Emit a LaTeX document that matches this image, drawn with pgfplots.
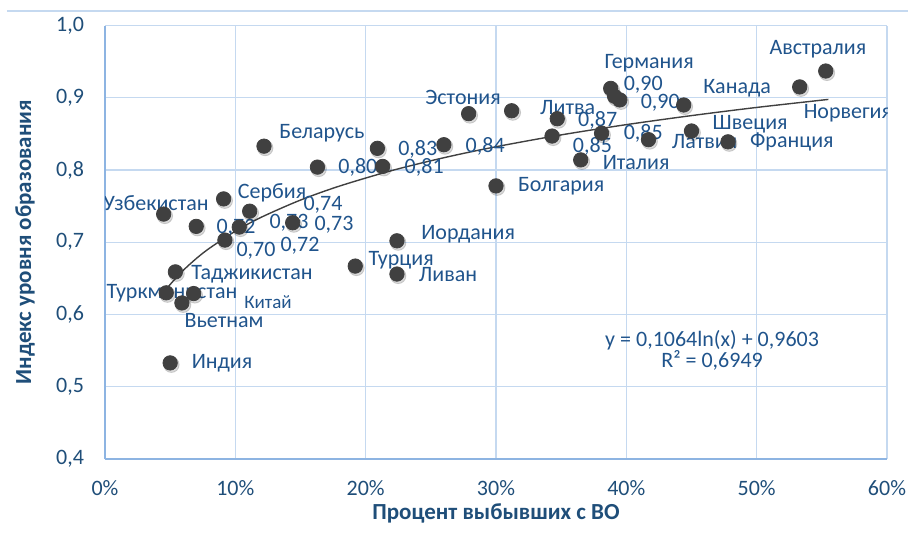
\documentclass[border=0pt]{standalone}
\usepackage{fontspec}
\setmainfont{Carlito}
\usepackage{pgfplots}
\pgfplotsset{compat=1.18}

\definecolor{txtc}{RGB}{31,78,121}
\definecolor{lblc}{RGB}{32,84,140}
\definecolor{gridc}{RGB}{197,217,240}
\definecolor{axisc}{RGB}{141,180,226}
\definecolor{markc}{RGB}{64,64,64}
\tikzset{lbl/.style={font=\fontsize{11}{13}\selectfont, text=lblc, inner sep=0pt, anchor=center}}

\begin{document}
\begin{tikzpicture}
\path[use as bounding box] (-52.5pt,-37.5pt) rectangle (401.5pt,229.5pt);
\draw[gridc, line width=0.6pt] (-49pt,224pt) -- (401.5pt,224pt);
\begin{axis}[
  scale only axis,
  width=391pt, height=216.75pt,
  xmin=0, xmax=0.6, ymin=0.4, ymax=1.0,
  xtick={0,0.1,0.2,0.3,0.4,0.5,0.6},
  xticklabels={0\%,10\%,20\%,30\%,40\%,50\%,60\%},
  ytick={0.4,0.5,0.6,0.7,0.8,0.9,1.0},
  yticklabel style={/pgf/number format/fixed, /pgf/number format/fixed zerofill,
    /pgf/number format/precision=1, /pgf/number format/use comma, xshift=-7pt},
  /pgf/number format/assume math mode=true,
  grid=major,
  grid style={gridc, line width=0.6pt},
  axis x line*=bottom, axis y line*=left,
  axis line style={axisc, line width=1.2pt, -},
  major tick length=0pt,
  tick label style={font=\fontsize{11}{13}\selectfont, text=txtc},
  xticklabel style={yshift=-7pt},
  xlabel={Процент выбывших с ВО},
  ylabel={Индекс уровня образования},
  every axis x label/.style={at={([yshift=-27pt]axis description cs:0.5,0)}, anchor=center,
    font=\fontsize{11.5}{13}\selectfont\bfseries, text=txtc},
  every axis y label/.style={at={([xshift=-40pt]axis description cs:0,0.5)}, anchor=center, rotate=90,
    font=\fontsize{11.5}{13}\selectfont\bfseries, text=txtc},
]
% trend line
\addplot[markc, line width=0.7pt, smooth, no marks] coordinates {
(0.043,0.6255) (0.05,0.6416) (0.06,0.6610) (0.07,0.6774) (0.08,0.6915)
(0.10,0.7153) (0.12,0.7347) (0.15,0.7584) (0.18,0.7778) (0.22,0.7992)
(0.26,0.8170) (0.30,0.8322) (0.35,0.8486) (0.40,0.8628) (0.45,0.8753)
(0.50,0.8866) (0.555,0.8977)
};
% shadow of the points
\addplot[only marks, mark=*, mark size=3.9pt,
  mark options={fill=black, draw=none, opacity=0.15, xshift=0.6pt, yshift=-0.9pt}]
  table {
x y
0.553 0.937
0.533 0.915
0.388 0.913
0.391 0.902
0.395 0.897
0.444 0.890
0.450 0.854
0.478 0.839
0.417 0.842
0.381 0.851
0.347 0.871
0.343 0.847
0.365 0.814
0.312 0.882
0.300 0.778
0.279 0.878
0.260 0.835
0.209 0.830
0.213 0.805
0.163 0.804
0.122 0.833
0.224 0.702
0.192 0.667
0.224 0.656
0.144 0.727
0.045 0.739
0.091 0.760
0.111 0.743
0.070 0.722
0.103 0.721
0.092 0.703
0.054 0.659
0.047 0.630
0.068 0.629
0.059 0.616
0.050 0.533
};
% points
\addplot[only marks, mark=*, mark size=3.6pt,
  mark options={fill=markc, draw=markc}]
  table {
x y
0.553 0.937
0.533 0.915
0.388 0.913
0.391 0.902
0.395 0.897
0.444 0.890
0.450 0.854
0.478 0.839
0.417 0.842
0.381 0.851
0.347 0.871
0.343 0.847
0.365 0.814
0.312 0.882
0.300 0.778
0.279 0.878
0.260 0.835
0.209 0.830
0.213 0.805
0.163 0.804
0.122 0.833
0.224 0.702
0.192 0.667
0.224 0.656
0.144 0.727
0.045 0.739
0.091 0.760
0.111 0.743
0.070 0.722
0.103 0.721
0.092 0.703
0.054 0.659
0.047 0.630
0.068 0.629
0.059 0.616
0.050 0.533
};
% data labels
\node[lbl] at (axis cs:0.547,0.967) {Австралия};
\node[lbl] at (axis cs:0.4175,0.948) {Германия};
\node[lbl] at (axis cs:0.413,0.918) {0,90};
\node[lbl] at (axis cs:0.426,0.893) {0,90};
\node[lbl] at (axis cs:0.485,0.913) {Канада};
\node[lbl] at (axis cs:0.570,0.879) {Норвегия};
\node[lbl] at (axis cs:0.495,0.864) {Швеция};
\node[lbl] at (axis cs:0.460,0.839) {Латвия};
\node[lbl] at (axis cs:0.527,0.839) {Франция};
\node[lbl] at (axis cs:0.413,0.851) {0,85};
\node[lbl] at (axis cs:0.378,0.869) {0,87};
\node[lbl] at (axis cs:0.355,0.886) {Литва};
\node[lbl] at (axis cs:0.374,0.832) {0,85};
\node[lbl] at (axis cs:0.4075,0.811) {Италия};
\node[lbl] at (axis cs:0.350,0.777) {Болгария};
\node[lbl] at (axis cs:0.2747,0.901) {Эстония};
\node[lbl] at (axis cs:0.2917,0.832) {0,84};
\node[lbl] at (axis cs:0.240,0.829) {0,83};
\node[lbl] at (axis cs:0.2449,0.803) {0,81};
\node[lbl] at (axis cs:0.194,0.803) {0,80};
\node[lbl] at (axis cs:0.1665,0.851) {Беларусь};
\node[lbl] at (axis cs:0.2786,0.711) {Иордания};
\node[lbl] at (axis cs:0.2272,0.675) {Турция};
\node[lbl] at (axis cs:0.2632,0.655) {Ливан};
\node[lbl] at (axis cs:0.1673,0.752) {0,74};
\node[lbl] at (axis cs:0.1412,0.727) {0,73};
\node[lbl] at (axis cs:0.1757,0.724) {0,73};
\node[lbl] at (axis cs:0.1496,0.695) {0,72};
\node[lbl] at (axis cs:0.1282,0.768) {Сербия};
\node[lbl] at (axis cs:0.0391,0.754) {Узбекистан};
\node[lbl] at (axis cs:0.1005,0.720) {0,72};
\node[lbl] at (axis cs:0.1159,0.688) {0,70};
\node[lbl] at (axis cs:0.1128,0.656) {Таджикистан};
\node[lbl] at (axis cs:0.0514,0.630) {Туркменистан};
\node[lbl, font=\fontsize{9.5}{11}\selectfont] at (axis cs:0.1251,0.617) {Китай};
\node[lbl] at (axis cs:0.0913,0.591) {Вьетнам};
\node[lbl] at (axis cs:0.0898,0.533) {Индия};
% trend equation
\node[lbl] at (axis cs:0.4658,0.565) {y = 0,1064ln(x) + 0,9603};
\node[lbl] at (axis cs:0.4658,0.536) {R² = 0,6949};
\end{axis}
\end{tikzpicture}
\end{document}
